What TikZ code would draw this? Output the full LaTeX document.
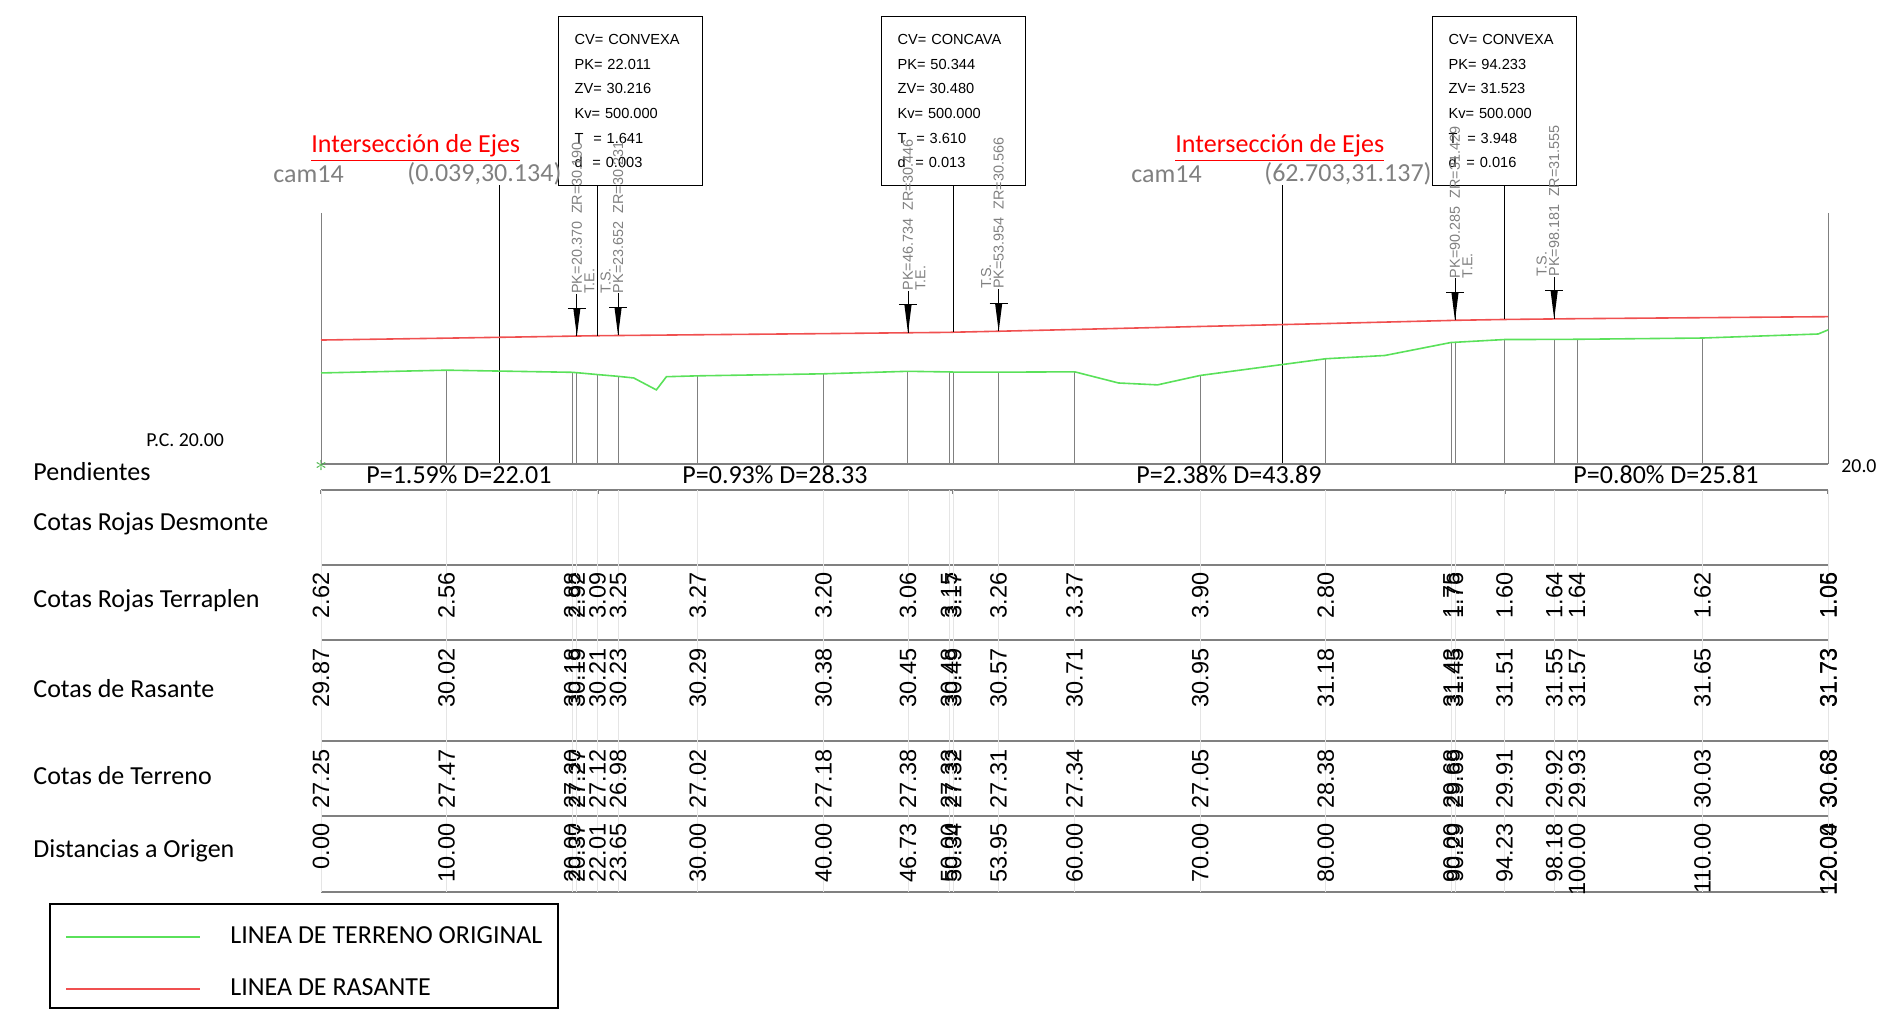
\documentclass[tikz,border=0pt]{standalone}
\usepackage{fontspec}
\setmainfont{Carlito}
\newfontfamily\cadfont{Liberation Sans}
\definecolor{rasante}{RGB}{240,80,80}
\definecolor{terreno}{RGB}{90,225,90}

\begin{document}
\begin{tikzpicture}[x=0.5pt,y=-0.5pt]
    \tikzstyle{every node}=[inner sep=0pt,font=\fontsize{13}{15}\selectfont]
    \tikzstyle{rowlabel}=[anchor=west]
    \tikzstyle{cota}=[rotate=90,anchor=east,font=\cadfont\fontsize{11.75}{13}\selectfont]
    \tikzstyle{curvebox}=[draw,line width=0.6pt,anchor=north west,text width=56pt,inner xsep=8pt,minimum height=84.5pt,align=left,font=\cadfont\fontsize{7.3}{12.35}\selectfont]
    \tikzstyle{marklabel}=[rotate=90,anchor=west,text=gray,font=\cadfont\fontsize{7.2}{8}\selectfont]
    \tikzstyle{tabline}=[draw=gray,line width=1pt]
    \tikzstyle{stationline}=[draw=gray,line width=0.45pt]
    \useasboundingbox (0,0) rectangle (1877,1010);

    % curvas verticales
    \node[curvebox] (box1) at (558,16) {CV= CONVEXA\\PK= 22.011\\ZV= 30.216\\Kv= 500.000\\T~~= 1.641\\d~~= 0.003};
    \node[curvebox] (box2) at (881,16) {CV= CONCAVA\\PK= 50.344\\ZV= 30.480\\Kv= 500.000\\T~~= 3.610\\d~~= 0.013};
    \node[curvebox] (box3) at (1432,16) {CV= CONVEXA\\PK= 94.233\\ZV= 31.523\\Kv= 500.000\\T~~= 3.948\\d~~= 0.016};

    % interseccion de ejes
    \node[anchor=west,text=red] (ie1) at (311,148) {\underline{Intersección de Ejes}};
    \node[anchor=west,text=gray] (cam1) at (273,174) {cam14};
    \node[anchor=west,text=gray] (xy1) at (407,174) {(0.039,30.134)};
    \node[anchor=west,text=red] (ie2) at (1175,148) {\underline{Intersección de Ejes}};
    \node[anchor=west,text=gray] (cam2) at (1131,174) {cam14};
    \node[anchor=west,text=gray] (xy2) at (1264,174) {(62.703,31.137)};
    \draw (499,185) -- (499,464);
    \draw (1282,185) -- (1282,464);

    % marco del perfil
    \draw[gray,line width=0.5pt] (321,213) -- (321,464);
    \draw[gray,line width=0.5pt] (1828,213) -- (1828,464);
    \draw[gray,line width=0.8pt] (321,464) -- (1828,464);
    \node[anchor=west,font=\fontsize{9.9}{11}\selectfont] (pc) at (146,440) {P.C. 20.00};
    \node[anchor=west,font=\fontsize{9.9}{11}\selectfont] (pcr) at (1841,466) {20.00};
    \node[text=terreno!80!black] (orig) at (321,466) {$\ast$};

    % guitarra
    \foreach \y in {490,565,640,741,816,892}
      \draw[tabline] (321,\y) -- (1828,\y);
    \node[rowlabel] (lpend) at (33,472) {Pendientes};
    \node[rowlabel] (ldes) at (33,524) {Cotas Rojas Desmonte};
    \node[rowlabel] (lter) at (33,601) {Cotas Rojas Terraplen};
    \node[rowlabel] (lras) at (33,689) {Cotas de Rasante};
    \node[rowlabel] (lterr) at (33,776) {Cotas de Terreno};
    \node[rowlabel] (ldist) at (33,851) {Distancias a Origen};

    \foreach \x in {321,597.5,953.3,1504.6,1828}
      \draw[tabline] (\x,490) -- (\x,494);
    \node (p1) at (459,475) {P=1.59\% D=22.01};
    \node (p2) at (775,475) {P=0.93\% D=28.33};
    \node (p3) at (1229,475) {P=2.38\% D=43.89};
    \node (p4) at (1666,475) {P=0.80\% D=25.81};

    \foreach \d/\ter/\ras/\trp [count=\i] in {0.00/27.25/29.87/2.62, 10.00/27.47/30.02/2.56,
        20.00/27.30/30.18/2.88, 20.37/27.27/30.19/2.92, 22.01/27.12/30.21/3.09, 23.65/26.98/30.23/3.25,
        30.00/27.02/30.29/3.27, 40.00/27.18/30.38/3.20, 46.73/27.38/30.45/3.06, 50.00/27.33/30.48/3.15,
        50.34/27.32/30.49/3.17, 53.95/27.31/30.57/3.26, 60.00/27.34/30.71/3.37, 70.00/27.05/30.95/3.90,
        80.00/28.38/31.18/2.80, 90.00/29.68/31.43/1.75, 90.29/29.69/31.45/1.76, 94.23/29.91/31.51/1.60,
        98.18/29.92/31.55/1.64, 100.00/29.93/31.57/1.64, 110.00/30.03/31.65/1.62,
        120.00/30.68/31.73/1.05, 120.04/30.63/31.73/1.06}{
      \pgfmathsetmacro\xx{321+12.56*\d}
      \pgfmathsetmacro\yy{715.2-12.56*\ter}
      \draw[gray!20] (\xx,490) -- (\xx,892);
      \draw[stationline] (\xx,\yy) -- (\xx,464);
      \node[cota] (trp\i) at (\xx,572) {\trp};
      \node[cota] (ras\i) at (\xx,648) {\ras};
      \node[cota] (ter\i) at (\xx,749) {\ter};
      \node[cota] (dis\i) at (\xx,823) {\d};
    }

    % perfil longitudinal
    \begin{scope}[shift={(321,715.2)},x=6.28pt,y=6.28pt]
      \draw[terreno,line width=0.8pt] plot coordinates {(0,27.25) (10,27.47) (20,27.30) (20.37,27.27)
        (22.01,27.12) (23.65,26.98) (24.9,26.85) (26.7,25.9) (27.5,26.95) (30,27.02) (40,27.18)
        (46.73,27.38) (50,27.33) (50.34,27.32) (53.95,27.31) (60,27.34) (63.5,26.45) (66.6,26.3)
        (70,27.05) (80,28.38) (84.7,28.64) (90,29.68) (90.29,29.69) (94.23,29.91) (98.18,29.92)
        (100,29.93) (110,30.03) (119.2,30.35) (120,30.68)};
      \draw[rasante,line width=0.8pt] plot coordinates {(0,29.87) (10,30.02) (20,30.18) (20.37,30.19)
        (22.011,30.213) (23.65,30.23) (30,30.29) (40,30.38) (46.73,30.45) (50,30.48) (50.344,30.493)
        (53.95,30.57) (60,30.71) (70,30.95) (80,31.18) (90,31.43) (90.29,31.44) (94.233,31.507)
        (98.18,31.55) (100,31.57) (110,31.65) (120,31.73)};
      \coordinate (v1) at (22.011,30.213);
      \coordinate (v2) at (50.344,30.493);
      \coordinate (v3) at (94.233,31.507);
      \foreach \d/\z/\tag/\s [count=\i] in {20.370/30.190/T.E./1, 23.652/30.231/T.S./-1,
          46.734/30.446/T.E./1, 53.954/30.566/T.S./-1, 90.285/31.429/T.E./1, 98.181/31.555/T.S./-1}{
        \coordinate (ts\i) at (\d,\z);
        \draw ([yshift=21pt]ts\i) -- (ts\i);
        \draw ([xshift=-4.5pt,yshift=14pt]ts\i) -- ([xshift=4.5pt,yshift=14pt]ts\i);
        \fill ([xshift=-1.8pt,yshift=14pt]ts\i) -- ([xshift=1.8pt,yshift=14pt]ts\i) -- (ts\i) -- cycle;
        \node[marklabel] (pk\i) at ([yshift=21pt]ts\i) {PK=\d~~ZR=\z};
        \node[marklabel] (tag\i) at ([xshift=\s*6.25pt,yshift=21pt]ts\i) {\tag};
      }
    \end{scope}
    \draw (box1.south -| v1) -- (v1);
    \draw (box2.south -| v2) -- (v2);
    \draw (box3.south -| v3) -- (v3);

    % leyenda
    \draw[line width=0.6pt] (50,904) rectangle (558,1008);
    \draw[terreno,line width=0.8pt] (66,937) -- (200,937);
    \draw[rasante,line width=0.8pt] (66,989) -- (200,989);
    \node[anchor=west] (leg1) at (230,935) {LINEA DE TERRENO ORIGINAL};
    \node[anchor=west] (leg2) at (230,987) {LINEA DE RASANTE};
\end{tikzpicture}
\end{document}
